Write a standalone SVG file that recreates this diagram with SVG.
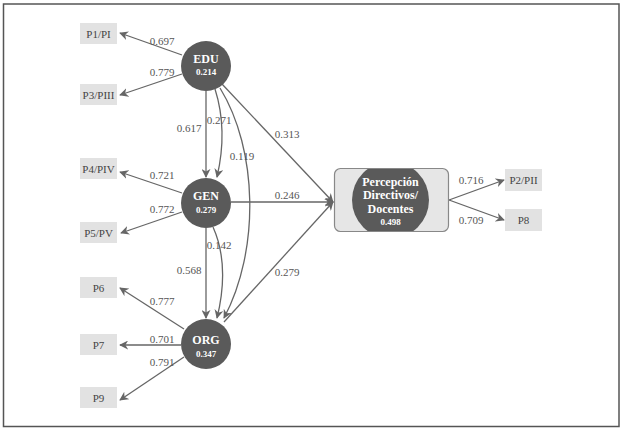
<svg xmlns="http://www.w3.org/2000/svg" width="622" height="430" viewBox="0 0 622 430">
<defs>
<marker id="ah" viewBox="0 0 10 10" refX="9" refY="5" markerWidth="9" markerHeight="9" markerUnits="userSpaceOnUse" orient="auto">
<path d="M0,0 L10,5 L0,10 L3,5 z" fill="#666"/>
</marker>
<clipPath id="pclip"><rect x="335" y="169" width="113" height="62" rx="5"/></clipPath>
<style>
.lat{fill:#5a5a5a}
.ind{fill:#e2e2e2}
.it{font-family:"Liberation Serif",serif;font-size:11px;fill:#444;text-anchor:middle}
.lt{font-family:"Liberation Serif",serif;font-weight:bold;font-size:12px;fill:#fff;text-anchor:middle}
.ls{font-family:"Liberation Serif",serif;font-weight:bold;font-size:9px;fill:#fff;text-anchor:middle}
.e{stroke:#666;stroke-width:1.3;fill:none;marker-end:url(#ah)}
.w{font-family:"Liberation Serif",serif;font-size:11px;fill:#555;text-anchor:middle}
</style>
</defs>
<rect x="3.5" y="4" width="615.5" height="422.5" fill="#fff" stroke="#555" stroke-width="1.5"/>
<g id="connectors">
<line class="e" x1="182" y1="55" x2="120" y2="33"/>
<line class="e" x1="182" y1="74" x2="120" y2="95"/>
<line class="e" x1="182" y1="193" x2="120" y2="172"/>
<line class="e" x1="182" y1="212" x2="121" y2="233"/>
<line class="e" x1="184" y1="329" x2="120" y2="288"/>
<line class="e" x1="181" y1="345" x2="120" y2="345"/>
<line class="e" x1="184" y1="357" x2="120" y2="400"/>
<line class="e" x1="206" y1="91" x2="206" y2="177"/>
<path class="e" d="M215,89 Q228,130 217,177"/>
<path class="e" d="M220,88 C258,150 260,250 224,318"/>
<line class="e" x1="222" y1="84" x2="333" y2="202"/>
<line class="e" x1="231" y1="202" x2="333" y2="202"/>
<line class="e" x1="206" y1="228" x2="206" y2="318"/>
<path class="e" d="M213,227 Q230,265 217,318"/>
<line class="e" x1="224" y1="322" x2="333" y2="202"/>
<line class="e" x1="449" y1="200" x2="504" y2="180"/>
<line class="e" x1="449" y1="200" x2="504" y2="220"/>
<text class="w" x="162" y="45">0.697</text>
<text class="w" x="162" y="76">0.779</text>
<text class="w" x="189" y="132">0.617</text>
<text class="w" x="219" y="124">0.271</text>
<text class="w" x="242" y="160">0.119</text>
<text class="w" x="287" y="138">0.313</text>
<text class="w" x="162" y="179">0.721</text>
<text class="w" x="287" y="199">0.246</text>
<text class="w" x="162" y="213">0.772</text>
<text class="w" x="219" y="249">0.142</text>
<text class="w" x="189" y="274">0.568</text>
<text class="w" x="287" y="276">0.279</text>
<text class="w" x="162" y="305">0.777</text>
<text class="w" x="162" y="343">0.701</text>
<text class="w" x="162" y="366">0.791</text>
<text class="w" x="471" y="184">0.716</text>
<text class="w" x="471" y="224">0.709</text>
</g>
<g id="P1"><rect class="ind" x="80" y="23" width="37" height="21"/><text class="it" x="98.5" y="37.5">P1/PI</text></g>
<g id="P3"><rect class="ind" x="80" y="84" width="37" height="21"/><text class="it" x="98.5" y="98.5">P3/PIII</text></g>
<g id="P4"><rect class="ind" x="80" y="158" width="37" height="21"/><text class="it" x="98.5" y="172.5">P4/PIV</text></g>
<g id="P5"><rect class="ind" x="80" y="222" width="37" height="21"/><text class="it" x="98.5" y="236.5">P5/PV</text></g>
<g id="P6"><rect class="ind" x="80" y="277" width="37" height="21"/><text class="it" x="98.5" y="291.5">P6</text></g>
<g id="P7"><rect class="ind" x="80" y="334" width="37" height="21"/><text class="it" x="98.5" y="348.5">P7</text></g>
<g id="P9"><rect class="ind" x="80" y="387" width="37" height="21"/><text class="it" x="98.5" y="401.5">P9</text></g>
<g id="P2"><rect class="ind" x="505" y="169" width="37" height="22"/><text class="it" x="523.5" y="184">P2/PII</text></g>
<g id="P8"><rect class="ind" x="505" y="209" width="37" height="22"/><text class="it" x="523.5" y="224">P8</text></g>
<g id="EDU"><circle class="lat" cx="206" cy="66" r="25"/><text class="lt" x="206" y="63">EDU</text><text class="ls" x="206" y="75">0.214</text></g>
<g id="GEN"><circle class="lat" cx="206" cy="203" r="25"/><text class="lt" x="206" y="200">GEN</text><text class="ls" x="206" y="213">0.279</text></g>
<g id="ORG"><circle class="lat" cx="206" cy="344" r="25"/><text class="lt" x="206" y="344">ORG</text><text class="ls" x="206" y="357">0.347</text></g>
<g id="Percepcion">
<rect x="334.5" y="168.5" width="114" height="63" rx="6" fill="#e6e6e6" stroke="#888" stroke-width="1.2"/>
<circle class="lat" cx="390.5" cy="200" r="38.5" clip-path="url(#pclip)"/>
<text class="lt" x="390.5" y="186">Percepción</text>
<text class="lt" x="390.5" y="199">Directivos/</text>
<text class="lt" x="390.5" y="213">Docentes</text>
<text class="ls" x="390.5" y="225">0.498</text>
</g>
</svg>
